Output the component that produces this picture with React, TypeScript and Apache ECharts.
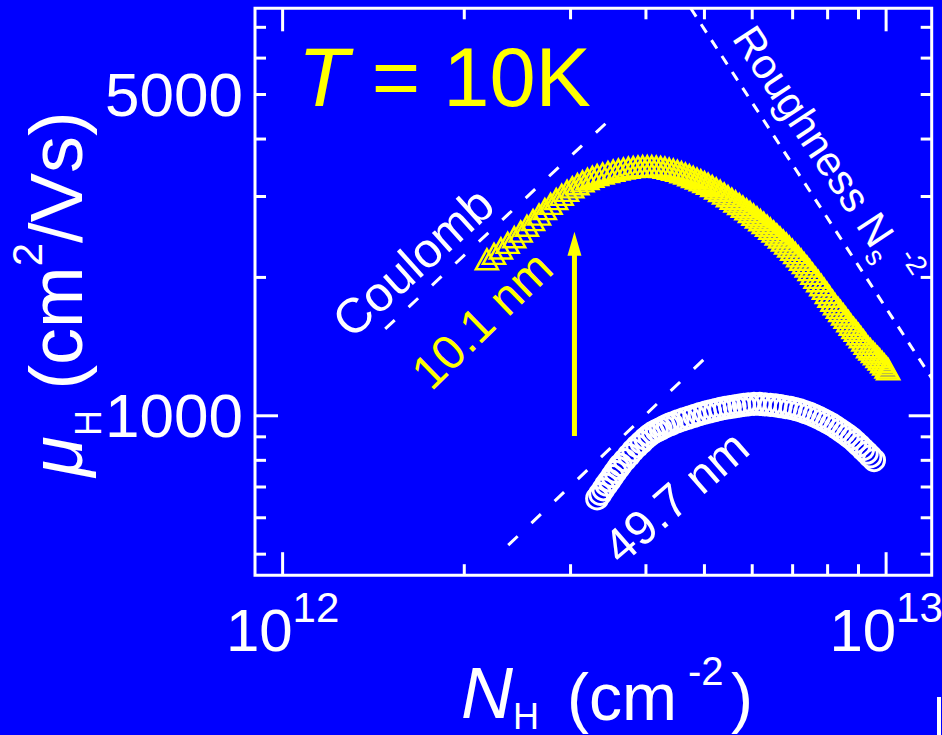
import React, { useEffect, useRef } from 'react';
import * as echarts from 'echarts';

const FONT = '"Liberation Sans", Arial, Helvetica, sans-serif';
const BLUE = '#0000ff';
const YELLOW = '#ffff00';
const WHITE = '#ffffff';

// axis ranges (log axes)
const xRange = [9e11, 1.19e13];
const yRange = [450, 7700];

// ticks and tick labels
const xMajorTicks = [1e12, 1e13];
const xMinorTicks = [2e12, 3e12, 4e12, 5e12, 6e12, 7e12, 8e12, 9e12];
const yMajorTicks = [1000];
const yMinorTicks = [500, 600, 700, 800, 900, 2000, 3000, 4000, 5000, 6000, 7000];
const yTickLabels = [1000, 5000];

// 10.1 nm sample (triangles): N_H in 1e12 cm^-2, mu_H in cm^2/Vs
const nH10 = [
  2.18, 2.24, 2.30, 2.36, 2.42, 2.48, 2.54, 2.60, 2.66, 2.72, 2.78, 2.84, 2.90, 2.96, 3.02, 3.08, 3.14, 3.20, 3.26, 3.32,
  3.39, 3.46, 3.53, 3.60, 3.67, 3.74, 3.81, 3.88, 3.95, 4.02, 4.09, 4.16, 4.23, 4.30, 4.37, 4.44, 4.51, 4.58, 4.65, 4.72,
  4.79, 4.86, 4.93, 5.00, 5.07,
  5.15, 5.23, 5.31, 5.39, 5.47, 5.55, 5.63, 5.71, 5.79, 5.87, 5.95, 6.03, 6.11, 6.19, 6.27, 6.35, 6.43, 6.51, 6.59, 6.67,
  6.75, 6.83, 6.91, 6.99, 7.07, 7.15, 7.23, 7.31, 7.39, 7.47,
  7.55, 7.64, 7.72, 7.81, 7.89, 7.98, 8.06, 8.15, 8.23, 8.32, 8.40, 8.49, 8.57, 8.66, 8.74, 8.83, 8.91, 9.00, 9.08, 9.17,
  9.25, 9.34, 9.42, 9.51, 9.59, 9.68, 9.76, 9.85, 9.93, 10.02, 10.08,
];
const mu10 = [
  2190, 2250, 2312, 2378, 2446, 2516, 2590, 2665, 2740, 2815, 2890, 2960, 3025, 3085, 3140, 3190, 3235, 3275, 3310, 3340,
  3365, 3390, 3412, 3432, 3450, 3464, 3476, 3485, 3490, 3492, 3490, 3485, 3476, 3464, 3448, 3430, 3410, 3388, 3363, 3336,
  3308, 3280, 3252, 3224, 3196,
  3160, 3122, 3083, 3044, 3004, 2964, 2925, 2888, 2850, 2812, 2775, 2738, 2701, 2664, 2627, 2590, 2553, 2516, 2479, 2442,
  2405, 2369, 2333, 2296, 2259, 2222, 2185, 2148, 2111, 2074,
  2036, 1996, 1962, 1923, 1889, 1850, 1816, 1778, 1747, 1717, 1690, 1661, 1634, 1605, 1578, 1552, 1530, 1505, 1482, 1457,
  1435, 1410, 1394, 1376, 1360, 1342, 1326, 1308, 1292, 1274, 1262,
];

// 49.7 nm sample (open circles)
const nH50 = [
  3.32, 3.36, 3.40, 3.44, 3.48, 3.52, 3.56, 3.60, 3.63,
  3.69, 3.75, 3.81, 3.87, 3.93, 3.99, 4.05, 4.11, 4.17, 4.23, 4.29, 4.35, 4.41,
  4.51, 4.61, 4.71, 4.81, 4.91, 5.01, 5.11, 5.21, 5.31, 5.41, 5.51, 5.61, 5.71, 5.81, 5.91,
  6.04, 6.17, 6.30, 6.43, 6.56, 6.69, 6.82, 6.95, 7.08, 7.21, 7.34, 7.47, 7.60, 7.73, 7.86, 7.99, 8.12,
  8.25, 8.38, 8.51, 8.64, 8.77, 8.90, 9.03, 9.16, 9.29, 9.42, 9.55,
];
const mu50 = [
  661, 676, 692, 708, 723, 739, 755, 770, 782,
  801, 821, 841, 859, 875, 892, 907, 919, 928, 937, 946, 954, 961,
  972, 982, 991, 1000, 1008, 1016, 1023, 1029, 1035, 1040, 1044, 1048, 1052, 1056, 1059,
  1061, 1061, 1059, 1056, 1053, 1049, 1044, 1040, 1034, 1027, 1019, 1011, 1001, 991, 980, 969, 958,
  945, 932, 919, 906, 893, 877, 862, 846, 831, 816, 801,
];

// guide lines [N_H, mu]
const coulombUpper = [[1.479e12, 1545], [3.451e12, 4356]];
const coulombLower = [[2.365e12, 523], [5.036e12, 1342]];
const roughnessLine = [[4.745e12, 7700], [1.19e13, 1208]];
// arrow: [N_H, mu_start, mu_tip]
const arrowSpan = [3.045e12, 904, 2515];

export default function App() {
  const ref = useRef<HTMLDivElement>(null);

  useEffect(() => {
    document.body.style.margin = '0';
    document.body.style.background = BLUE;
    const chart = echarts.init(ref.current as HTMLDivElement, null, { renderer: 'svg' });

    const tickData = [
      ...xMajorTicks.map((v) => [v, 1000, 1, 0]),
      ...xMinorTicks.map((v) => [v, 1000, 0, 0]),
      ...yMajorTicks.map((v) => [1e12, v, 1, 1]),
      ...yMinorTicks.map((v) => [1e12, v, 0, 1]),
    ];

    const txt = (x: number, y: number, text: string, fontSize: number, italic = false) => ({
      type: 'text',
      x,
      y,
      silent: true,
      style: {
        text,
        fontSize,
        fontFamily: FONT,
        fontStyle: italic ? 'italic' : 'normal',
        fill: WHITE,
        align: 'left',
        verticalAlign: 'middle',
      },
    });

    const option: any = {
      animation: false,
      backgroundColor: BLUE,
      textStyle: { fontFamily: FONT },
      grid: {
        left: 255,
        right: 10.3,
        top: 8.3,
        bottom: 159.8,
        show: true,
        borderColor: WHITE,
        borderWidth: 3,
        backgroundColor: 'transparent',
        containLabel: false,
        outerBoundsMode: 'none',
      },
      xAxis: {
        type: 'log',
        logBase: 10,
        min: xRange[0],
        max: xRange[1],
        axisLine: { show: false },
        axisTick: { show: false },
        minorTick: { show: false },
        splitLine: { show: false },
        axisLabel: {
          show: true,
          interval: 0,
          showMinLabel: false,
          showMaxLabel: false,
          hideOverlap: false,
          margin: 11,
          fontSize: 60,
          color: WHITE,
          formatter: (v: number) => {
            const e = Math.log10(v);
            if (Math.abs(e - Math.round(e)) > 1e-6) return '';
            return '{b|10}{s|' + Math.round(e) + '}';
          },
          rich: {
            b: { fontSize: 60, fontFamily: FONT, color: WHITE, lineHeight: 88, verticalAlign: 'middle' },
            s: { fontSize: 42, fontFamily: FONT, color: WHITE, lineHeight: 42, verticalAlign: 'top' },
          },
        },
      },
      yAxis: {
        type: 'log',
        logBase: 10,
        min: yRange[0],
        max: yRange[1],
        axisLine: { show: false },
        axisTick: { show: false },
        minorTick: { show: false },
        splitLine: { show: false },
        axisLabel: { show: false },
      },
      series: [
        {
          type: 'line',
          data: coulombUpper,
          symbol: 'none',
          showSymbol: false,
          silent: true,
          z: 2,
          lineStyle: { color: WHITE, width: 3, type: [13, 19] },
        },
        {
          type: 'line',
          data: coulombLower,
          symbol: 'none',
          showSymbol: false,
          silent: true,
          z: 2,
          lineStyle: { color: WHITE, width: 3, type: [13, 19] },
        },
        {
          type: 'line',
          data: roughnessLine,
          symbol: 'none',
          showSymbol: false,
          silent: true,
          z: 2,
          lineStyle: { color: WHITE, width: 3, type: [10, 9] },
        },
        {
          type: 'custom',
          silent: true,
          z: 3,
          data: [arrowSpan],
          encode: { x: 0, y: [1, 2] },
          renderItem: (params: any, api: any) => {
            const base = api.coord([api.value(0), api.value(1)]);
            const tip = api.coord([api.value(0), api.value(2)]);
            const headLen = 24;
            const headHalf = 7;
            return {
              type: 'group',
              children: [
                {
                  type: 'line',
                  shape: { x1: base[0], y1: base[1], x2: tip[0], y2: tip[1] + headLen - 2 },
                  style: { stroke: YELLOW, lineWidth: 5 },
                },
                {
                  type: 'polygon',
                  shape: {
                    points: [
                      [tip[0], tip[1]],
                      [tip[0] - headHalf, tip[1] + headLen],
                      [tip[0] + headHalf, tip[1] + headLen],
                    ],
                  },
                  style: { fill: YELLOW },
                },
              ],
            };
          },
        },
        {
          type: 'scatter',
          name: '49.7 nm',
          data: nH50.map((n, i) => [n * 1e12, mu50[i]]),
          symbol: 'circle',
          symbolSize: 21,
          silent: true,
          z: 4,
          itemStyle: { color: 'rgba(0,0,0,0)', borderColor: WHITE, borderWidth: 3, opacity: 1 },
        },
        {
          type: 'scatter',
          name: '10.1 nm',
          data: nH10.map((n, i) => [n * 1e12, mu10[i]]),
          symbol: 'triangle',
          symbolSize: [22, 20],
          silent: true,
          z: 4,
          itemStyle: { color: 'rgba(0,0,0,0)', borderColor: YELLOW, borderWidth: 2.5, opacity: 1 },
        },
        {
          type: 'custom',
          silent: true,
          z: 6,
          data: tickData,
          encode: { x: 0, y: 1 },
          renderItem: (params: any, api: any) => {
            const cs = params.coordSys;
            const major = api.value(2) === 1;
            const isY = api.value(3) === 1;
            const len = major ? 23 : 11;
            const p = api.coord([api.value(0), api.value(1)]);
            const style = { stroke: WHITE, lineWidth: 3 };
            if (!isY) {
              const bottom = cs.y + cs.height;
              const top = cs.y;
              return {
                type: 'group',
                children: [
                  { type: 'line', shape: { x1: p[0], y1: bottom, x2: p[0], y2: bottom - len }, style },
                  { type: 'line', shape: { x1: p[0], y1: top, x2: p[0], y2: top + len }, style },
                ],
              };
            }
            const left = cs.x;
            const right = cs.x + cs.width;
            return {
              type: 'group',
              children: [
                { type: 'line', shape: { x1: left, y1: p[1], x2: left + len, y2: p[1] }, style },
                { type: 'line', shape: { x1: right, y1: p[1], x2: right - len, y2: p[1] }, style },
              ],
            };
          },
        },
        {
          type: 'custom',
          silent: true,
          z: 6,
          data: yTickLabels.map((v) => [xRange[0], v]),
          encode: { x: 0, y: 1 },
          renderItem: (params: any, api: any) => {
            const p = api.coord([api.value(0), api.value(1)]);
            return {
              type: 'text',
              x: p[0] - 12,
              y: p[1],
              style: {
                text: String(api.value(1)),
                fill: WHITE,
                fontSize: 62,
                fontFamily: FONT,
                align: 'right',
                verticalAlign: 'middle',
              },
            };
          },
        },
      ],
      graphic: [
        {
          type: 'text',
          x: 298,
          y: 77,
          silent: true,
          style: {
            text: '{t|T}{r| = 10K}',
            align: 'left',
            verticalAlign: 'middle',
            rich: {
              t: { fontSize: 83, fontFamily: FONT, fontStyle: 'italic', fill: YELLOW },
              r: { fontSize: 83, fontFamily: FONT, fill: YELLOW },
            },
          },
        },
        // x-axis title: N_H (cm^-2)
        txt(461, 693, 'N', 72, true),
        txt(513, 716, 'H', 36),
        txt(567, 697, '(cm', 66),
        txt(688, 671, '-2', 40),
        txt(731, 697, ')', 66),
        {
          type: 'text',
          x: 56,
          y: 294,
          rotation: Math.PI / 2,
          silent: true,
          style: {
            text: '{m|μ}{h|H}{b| (cm}{s|2}{b|/Vs)}',
            align: 'center',
            verticalAlign: 'middle',
            rich: {
              m: { fontSize: 74, fontFamily: FONT, fontStyle: 'italic', fill: WHITE, lineHeight: 100, verticalAlign: 'middle' },
              h: { fontSize: 36, fontFamily: FONT, fill: WHITE, lineHeight: 36, verticalAlign: 'bottom' },
              b: { fontSize: 74, fontFamily: FONT, fill: WHITE, lineHeight: 100, verticalAlign: 'middle' },
              s: { fontSize: 42, fontFamily: FONT, fill: WHITE, lineHeight: 42, verticalAlign: 'top' },
            },
          },
        },
        {
          type: 'text',
          x: 413,
          y: 262,
          rotation: (42 * Math.PI) / 180,
          silent: true,
          style: { text: 'Coulomb', fontSize: 49, fontFamily: FONT, fill: WHITE, align: 'center', verticalAlign: 'middle' },
        },
        {
          type: 'text',
          x: 482,
          y: 320,
          rotation: (44 * Math.PI) / 180,
          silent: true,
          style: { text: '10.1 nm', fontSize: 48, fontFamily: FONT, fill: YELLOW, align: 'center', verticalAlign: 'middle' },
        },
        {
          type: 'text',
          x: 676,
          y: 497,
          rotation: (41 * Math.PI) / 180,
          silent: true,
          style: { text: '49.7 nm', fontSize: 48, fontFamily: FONT, fill: WHITE, align: 'center', verticalAlign: 'middle' },
        },
        {
          type: 'text',
          x: 826,
          y: 155,
          rotation: (-56.5 * Math.PI) / 180,
          silent: true,
          style: {
            text: '{b|Roughness N}{s|s}{p|-2}',
            align: 'center',
            verticalAlign: 'middle',
            rich: {
              b: { fontSize: 42, fontFamily: FONT, fill: WHITE, lineHeight: 58, verticalAlign: 'middle' },
              s: { fontSize: 28, fontFamily: FONT, fill: WHITE, lineHeight: 28, verticalAlign: 'bottom' },
              p: { fontSize: 28, fontFamily: FONT, fill: WHITE, lineHeight: 28, verticalAlign: 'top', padding: [0, 0, 0, 6] },
            },
          },
        },
        {
          type: 'rect',
          silent: true,
          shape: { x: 937, y: 697, width: 4, height: 38 },
          style: { fill: WHITE },
        },
      ],
    };

    chart.setOption(option);
    return () => chart.dispose();
  }, []);

  return <div ref={ref} style={{ width: 942, height: 735 }} />;
}
